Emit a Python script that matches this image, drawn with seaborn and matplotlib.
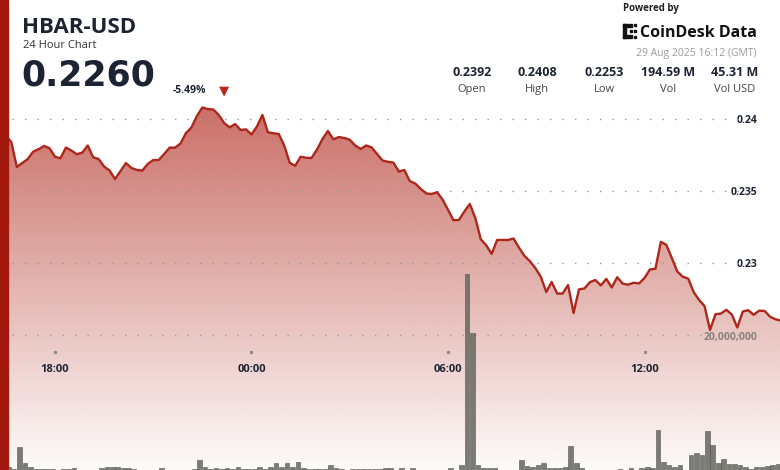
import numpy as np
import pandas as pd
import matplotlib
matplotlib.use("Agg")
import matplotlib.pyplot as plt
import matplotlib.transforms as mtransforms
from matplotlib.patches import Rectangle
from matplotlib.ticker import FuncFormatter
import seaborn as sns

# ---------------- data ----------------
start_hour = 16 + 20 / 60          # 28 Aug 2025 16:20 GMT, 10-minute candles
step_hours = 1 / 6

price = [
    0.23910, 0.23882, 0.23840, 0.23667, 0.23694, 0.23722, 0.23773, 0.23790, 0.23813, 0.23797,
    0.23738, 0.23727, 0.23802, 0.23781, 0.23755, 0.23767, 0.23816, 0.23734, 0.23722, 0.23670,
    0.23642, 0.23583, 0.23639, 0.23694, 0.23660, 0.23646, 0.23642, 0.23688, 0.23715, 0.23715,
    0.23757, 0.23801, 0.23801, 0.23830, 0.23903, 0.23941, 0.24021, 0.24080, 0.24069, 0.24066,
    0.24028, 0.23972, 0.23942, 0.23965, 0.23924, 0.23928, 0.23892, 0.23948, 0.24028, 0.23908,
    0.23901, 0.23896, 0.23816, 0.23696, 0.23675, 0.23738, 0.23731, 0.23729, 0.23788, 0.23861,
    0.23917, 0.23859, 0.23875, 0.23868, 0.23856, 0.23816, 0.23792, 0.23816, 0.23803, 0.23757,
    0.23712, 0.23703, 0.23697, 0.23635, 0.23646, 0.23569, 0.23552, 0.23515, 0.23483, 0.23479,
    0.23492, 0.23441, 0.23370, 0.23297, 0.23299, 0.23358, 0.23410, 0.23313, 0.23165, 0.23123,
    0.23063, 0.23160, 0.23160, 0.23160, 0.23170, 0.23107, 0.23050, 0.23012, 0.22965, 0.22904,
    0.22799, 0.22868, 0.22788, 0.22788, 0.22847, 0.22653, 0.22817, 0.22823, 0.22867, 0.22882,
    0.22844, 0.22890, 0.22830, 0.22901, 0.22857, 0.22849, 0.22863, 0.22858, 0.22896, 0.22955,
    0.22960, 0.23147, 0.23126, 0.23035, 0.22941, 0.22905, 0.22892, 0.22799, 0.22743, 0.22701,
    0.22535, 0.22644, 0.22649, 0.22675, 0.22642, 0.22552, 0.22663, 0.22672, 0.22640, 0.22669,
    0.22667, 0.22627, 0.22609, 0.22600,
]

volume_m = [
    0.30, 0.64, 0.30, 3.51, 1.14, 0.55, 0.37, 0.30, 0.37, 0.30,
    0.22, 0.30, 0.37, 0.44, 0.22, 0.15, 0.22, 0.15, 0.44, 0.52,
    0.52, 0.59, 0.44, 0.44, 0.30, 0.15, 0.22, 0.15, 0.22, 0.44,
    0.22, 0.15, 0.22, 0.15, 0.22, 0.30, 1.63, 0.64, 0.37, 0.44,
    0.37, 0.44, 0.30, 0.64, 0.37, 0.30, 0.37, 0.59, 0.30, 0.52,
    1.14, 0.59, 1.23, 0.64, 1.33, 0.44, 0.30, 0.37, 0.30, 0.30,
    0.89, 0.44, 0.30, 0.22, 0.30, 0.37, 0.30, 0.37, 0.30, 0.37,
    0.44, 0.40, 0.22, 0.40, 0.22, 0.40, 0.15, 0.22, 0.15, 0.22,
    0.15, 0.22, 0.40, 0.22, 0.89, 29.16, 20.47, 0.89, 0.49, 0.40,
    0.40, 0.22, 0.15, 0.22, 0.22, 1.63, 0.74, 0.55, 0.89, 1.23,
    0.49, 0.40, 0.40, 0.55, 3.70, 1.14, 0.40, 0.22, 0.15, 0.22,
    0.15, 0.22, 0.15, 0.30, 0.22, 0.40, 0.22, 0.40, 0.55, 0.40,
    6.07, 1.38, 0.89, 0.55, 0.89, 0.22, 2.37, 2.62, 2.37, 5.96,
    3.85, 1.23, 1.73, 1.04, 0.99, 0.89, 0.64, 0.30, 0.64, 0.64,
    0.78, 0.89, 0.99, 0.44,
]

price_ticks = [0.225, 0.23, 0.235, 0.24]
price_tick_labels = ["", "0.23", "0.235", "0.24"]
volume_ticks = [20_000_000]
x_ticks = [18, 24, 30, 36]
x_tick_labels = ["18:00", "00:00", "06:00", "12:00"]

title = "HBAR-USD"
subtitle = "24 Hour Chart"
last_price = "0.2260"
change_pct = "-5.49%"
timestamp = "29 Aug 2025 16:12 (GMT)"
stats_values = ["0.2392", "0.2408", "0.2253", "194.59 M", "45.31 M"]
stats_labels = ["Open", "High", "Low", "Vol", "Vol USD"]

# ---------------- styling ----------------
sns.set_style("white")
plt.rcParams["font.family"] = ["Open Sans", "DejaVu Sans"]

W, H = 780, 470
DARK = "#1c2433"
RED_LINE = "#ad271b"

hours = start_hour + np.arange(len(price)) * step_hours
df = pd.DataFrame({"hour": hours, "price": price,
                   "bin_mid": hours + step_hours / 2,
                   "volume": np.array(volume_m) * 1e6})

fig = plt.figure(figsize=(W / 100, H / 100), dpi=100)
fig.patch.set_facecolor("white")
ax = fig.add_axes([0, 0, 1, 1])
axv = ax.twinx()

XMIN, XMAX = 16.321, 40.137
PY_TOP = 0.248264
PY_BOT = 0.215625

# gradient fill under the price line
fill = ax.fill_between(df["hour"], df["price"], PY_BOT, facecolor="none", edgecolor="none")
grad = np.zeros((256, 1, 4))
grad[:, 0, 0] = 176 / 255
grad[:, 0, 1] = 40 / 255
grad[:, 0, 2] = 28 / 255
grad[:, 0, 3] = np.linspace(0.67, 0.02, 256)
img = ax.imshow(grad, extent=[XMIN, XMAX, PY_BOT, max(price) + 0.00005],
                aspect="auto", origin="upper", zorder=0.5)
img.set_clip_path(fill.get_paths()[0], transform=ax.transData)

# dotted gridlines
for t in price_ticks:
    ax.axhline(t, xmin=12 / W, xmax=762 / W, color="#9a9a9a", lw=1.0,
               linestyle=(0, (1, 8)), zorder=1)

sns.lineplot(data=df, x="hour", y="price", ax=ax, color=RED_LINE, lw=1.7, zorder=3)

ax.set_xlim(XMIN, XMAX)
ax.set_ylim(PY_BOT, PY_TOP)
ax.set_xlabel("")
ax.set_ylabel("")
for s in ax.spines.values():
    s.set_visible(False)

ax.set_xticks(x_ticks)
ax.set_xticklabels(x_tick_labels)
ax.tick_params(axis="x", length=0, pad=-76, labelsize=8, labelcolor=DARK)
for lab in ax.get_xticklabels():
    lab.set_fontweight("bold")
blend = mtransforms.blended_transform_factory(ax.transData, ax.transAxes)
ax.plot(x_ticks, [(H - 352) / H] * len(x_ticks), transform=blend, ls="",
        marker="s", ms=1.3, color="#8a8a8a", zorder=2)

# volume bars
sns.histplot(data=df, x="bin_mid", weights="volume", binwidth=step_hours,
             binrange=(hours[0], hours[-1] + step_hours), ax=axv,
             shrink=0.85, color="#6d6e67", edgecolor="#55574f", linewidth=0.4,
             alpha=0.9, zorder=2)
axv.set_xlim(XMIN, XMAX)
axv.set_ylim(0.148e6, 69.78e6)
axv.set_ylabel("")
axv.set_xlabel("")
for s in axv.spines.values():
    s.set_visible(False)
axv.set_yticks(volume_ticks)
axv.yaxis.set_major_formatter(FuncFormatter(lambda v, p: f"{v:,.0f}"))
axv.yaxis.tick_right()
axv.tick_params(axis="y", length=0, pad=-16.5, labelsize=7.5, labelcolor="#8c817b")
for lab in axv.get_yticklabels():
    lab.set_horizontalalignment("right")
    lab.set_fontweight("bold")
axv.tick_params(axis="x", bottom=False, labelbottom=False)

# price tick labels (right side, inside)
ax.set_yticks(price_ticks)
ax.set_yticklabels(price_tick_labels)
ax.yaxis.tick_right()
ax.tick_params(axis="y", left=False, labelleft=False, right=False, labelright=True,
               length=0, pad=-16.5, labelsize=7.5, labelcolor=DARK)
for tick in ax.yaxis.get_major_ticks():
    tick.label2.set_horizontalalignment("right")
    tick.label2.set_fontweight("bold")

# ---------------- header ----------------
def fx(x):
    return x / W

def fy(y):
    return 1 - y / H

fig.patches.append(Rectangle((0, 0), 8 / W, 1, transform=fig.transFigure,
                             color="#a3190d", zorder=10))

fig.text(fx(22), fy(33), title, fontsize=16, fontweight="bold", color=DARK, va="baseline")
fig.text(fx(23), fy(48), subtitle, fontsize=8, color="#333333", va="baseline")
fig.text(fx(21), fy(86), last_price, fontsize=25, fontweight="bold", color=DARK, va="baseline",
         family=["DejaVu Sans"])
fig.text(fx(173), fy(93), change_pct, fontsize=7.5, fontweight="bold", color=DARK, va="baseline")
fig.text(fx(219), fy(94), "\u25BC", fontsize=9.5, color="#b5281a", va="baseline",
         family=["DejaVu Sans"])

fig.text(fx(623), fy(11), "Powered by", fontsize=7, fontweight="bold", color="#222222", va="baseline")
# CoinDesk logo mark
logo = [(623, 24, 3, 14), (623, 24, 9, 3), (623, 35, 9, 3), (630, 30, 2, 2),
        (634, 24, 2, 2), (634, 36, 2, 2), (634, 30, 2, 2)]
for (lx, ly, lw_, lh) in logo:
    fig.patches.append(Rectangle((fx(lx), fy(ly + lh)), lw_ / W, lh / H,
                                 transform=fig.transFigure, color="#111111", zorder=10))
fig.text(fx(640), fy(37), "CoinDesk Data", fontsize=11.5, fontweight="bold", color="#111111",
         va="baseline")
fig.text(fx(757), fy(56), timestamp, fontsize=7.5, color="#9b9b9b", va="baseline", ha="right")

col_x = [472, 537, 604, 668, 735]
for cx, v, l in zip(col_x, stats_values, stats_labels):
    fig.text(fx(cx), fy(76), v, fontsize=9, fontweight="bold", color=DARK, va="baseline", ha="center")
    fig.text(fx(cx), fy(92), l, fontsize=8, color="#444444", va="baseline", ha="center")

fig.savefig("out.png", dpi=100, facecolor="white")
